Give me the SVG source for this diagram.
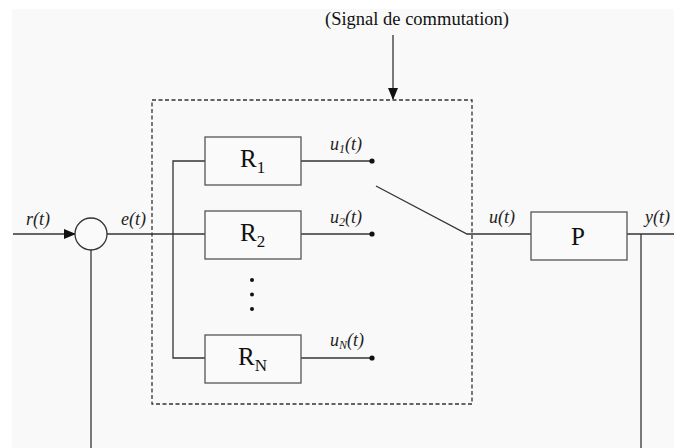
<svg xmlns="http://www.w3.org/2000/svg" width="674" height="448" viewBox="0 0 674 448">
<style>
.ln{stroke:#333;stroke-width:1.3;fill:none}
.bx{stroke:#555;stroke-width:1.3;fill:#fafafa}
.dash{stroke:#333;stroke-width:1.3;fill:none;stroke-dasharray:4,2.5}
.lbl{font-family:"Liberation Serif",serif;font-style:italic;font-size:18px;fill:#222}
.big{font-family:"Liberation Serif",serif;font-size:25px;fill:#111}
.sub{font-size:17px}
.ttl{font-family:"Liberation Serif",serif;font-size:18.5px;fill:#111}
.dot{fill:#111}
</style>
<defs>
<marker id="ah" markerWidth="12" markerHeight="10" refX="11" refY="5" orient="auto" markerUnits="userSpaceOnUse">
<path d="M0,0 L12,5 L0,10 Z" fill="#111"/>
</marker>
</defs>
<rect x="0" y="0" width="674" height="448" fill="#ffffff"/>
<rect x="12" y="9" width="662" height="439" fill="#f9f9f9"/>

<g id="connectors">
<line class="ln" x1="13" y1="234" x2="75" y2="234" marker-end="url(#ah)"/>
<line class="ln" x1="91" y1="250" x2="91" y2="448"/>
<line class="ln" x1="107" y1="234" x2="205" y2="234"/>
<polyline class="ln" points="205,161 173,161 173,358 205,358"/>
<line class="ln" x1="301" y1="161" x2="372" y2="161"/>
<line class="ln" x1="301" y1="234" x2="372" y2="234"/>
<line class="ln" x1="301" y1="358" x2="372" y2="358"/>
<polyline class="ln" points="376,186 467,234 531,234"/>
<line class="ln" x1="627" y1="234" x2="674" y2="234"/>
<line class="ln" x1="641" y1="234" x2="641" y2="448"/>
<line class="ln" x1="393" y1="35" x2="393" y2="99" marker-end="url(#ah)"/>
</g>

<g id="switch-box">
<rect class="dash" x="152" y="100" width="320" height="304"/>
</g>

<g id="sum">
<circle cx="91" cy="234" r="16" fill="#fafafa" stroke="#333" stroke-width="1.3"/>
</g>

<g id="R1">
<rect class="bx" x="205" y="137" width="96" height="48"/>
<text class="big" x="240" y="167">R<tspan class="sub" dy="6">1</tspan></text>
</g>
<g id="R2">
<rect class="bx" x="205" y="211" width="96" height="48"/>
<text class="big" x="240" y="241">R<tspan class="sub" dy="6">2</tspan></text>
</g>
<g id="RN">
<rect class="bx" x="205" y="335" width="96" height="48"/>
<text class="big" x="238" y="365">R<tspan class="sub" dy="6">N</tspan></text>
</g>
<g id="P">
<rect class="bx" x="531" y="212" width="96" height="48"/>
<text class="big" x="571" y="245">P</text>
</g>

<g id="ellipsis">
<circle class="dot" cx="252" cy="280" r="2"/>
<circle class="dot" cx="252" cy="294.5" r="2"/>
<circle class="dot" cx="252" cy="309" r="2"/>
</g>

<g id="contacts">
<circle class="dot" cx="372" cy="161" r="2.6"/>
<circle class="dot" cx="372" cy="234" r="2.6"/>
<circle class="dot" cx="372" cy="358" r="2.6"/>
</g>

<g id="labels">
<text class="lbl" x="26" y="225">r(t)</text>
<text class="lbl" x="121" y="225">e(t)</text>
<text class="lbl" x="330" y="150">u<tspan font-size="12" dy="3">1</tspan><tspan dy="-3">(t)</tspan></text>
<text class="lbl" x="330" y="223">u<tspan font-size="12" dy="3">2</tspan><tspan dy="-3">(t)</tspan></text>
<text class="lbl" x="330" y="346">u<tspan font-size="12" dy="3">N</tspan><tspan dy="-3">(t)</tspan></text>
<text class="lbl" x="489" y="223">u(t)</text>
<text class="lbl" x="645" y="223">y(t)</text>
<text class="ttl" x="325" y="25">(Signal de commutation)</text>
</g>
</svg>
